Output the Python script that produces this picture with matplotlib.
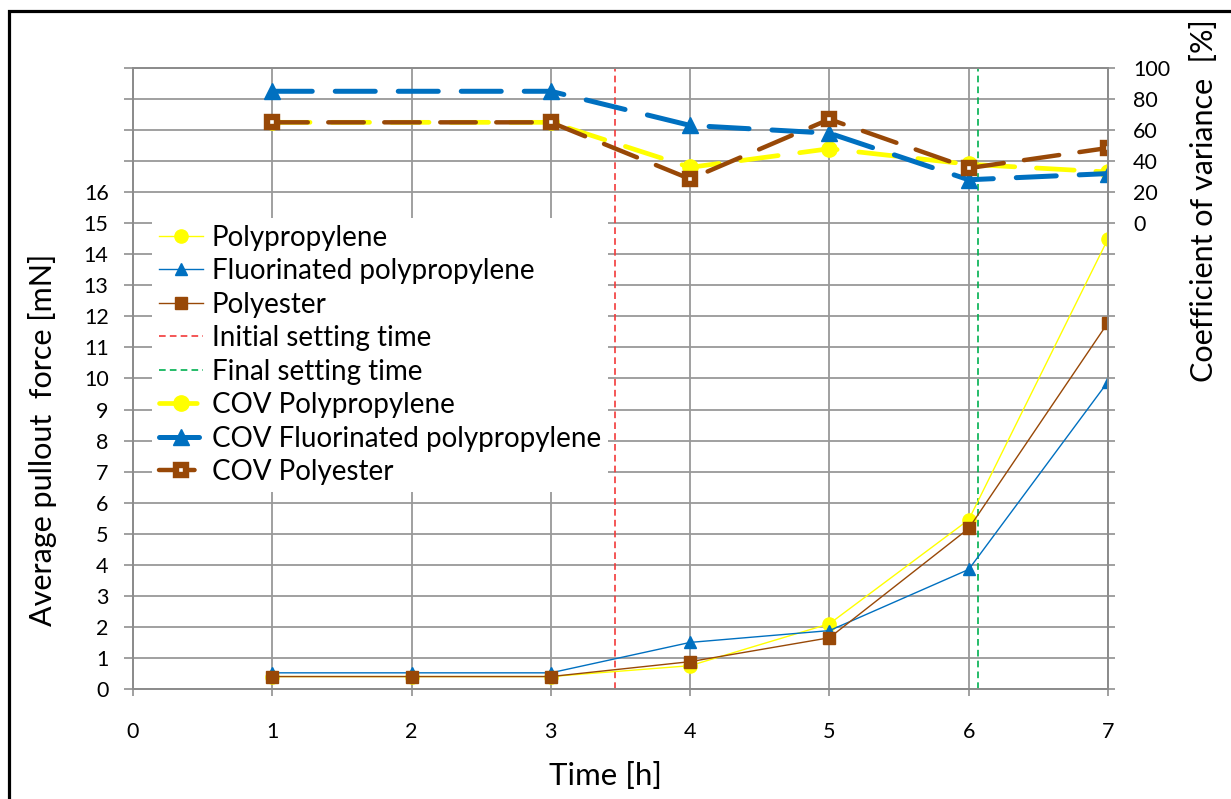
import matplotlib
matplotlib.use("Agg")
import matplotlib.pyplot as plt
from matplotlib.patches import Rectangle

plt.rcParams['font.family'] = ['Lato', 'DejaVu Sans']

# data
time_h = [1, 2, 3, 4, 5, 6, 7]
force_pp = [0.4, 0.4, 0.4, 0.75, 2.1, 5.45, 14.5]
force_fpp = [0.52, 0.52, 0.52, 1.5, 1.88, 3.85, 9.9]
force_pes = [0.4, 0.4, 0.4, 0.88, 1.65, 5.17, 11.8]

cov_time = [1, 3, 4, 5, 6, 7]
cov_pp = [65, 65, 36, 48, 38, 33]
cov_fpp = [85, 85, 63, 58, 28, 32]
cov_pes = [65, 65, 28.5, 67, 35.5, 48.5]

initial_set = 3.46
final_set = 6.065

yellow = '#FFFF00'
blue = '#0070C0'
brown = '#984807'
grid_c = '#999999'

fig = plt.figure(figsize=(12.31, 7.99), dpi=100)
ax = fig.add_axes([0.1080, 0.1377, 0.7921, 0.7772])
ax2 = ax.twinx()

# primary series (thin lines)
l1, = ax.plot(time_h, force_pp, color=yellow, lw=1.0, marker='o', ms=9.5, label='Polypropylene', zorder=3)
l2, = ax.plot(time_h, force_fpp, color=blue, lw=1.0, marker='^', ms=8.5, label='Fluorinated polypropylene', zorder=3)
l3, = ax.plot(time_h, force_pes, color=brown, lw=1.0, marker='s', ms=9, label='Polyester', zorder=3)

l4 = ax.axvline(initial_set, color='#F23A3A', lw=1.2, dashes=(4, 2.5), label='Initial setting time', zorder=2)
l5 = ax.axvline(final_set, color='#00B050', lw=1.2, dashes=(4, 2.5), label='Final setting time', zorder=2)

# coefficient of variance (thick dashed, right axis)
dash = (8, 4.6)
c1, = ax2.plot(cov_time, cov_pp, color=yellow, lw=3.4, dashes=dash, dash_capstyle='round',
               marker='o', ms=11, label='COV Polypropylene')
c2, = ax2.plot(cov_time, cov_fpp, color=blue, lw=3.6, dashes=dash, dash_capstyle='round',
               marker='^', ms=12, mfc=blue, mec=blue, label='COV Fluorinated polypropylene')
c3, = ax2.plot(cov_time, cov_pes, color=brown, lw=3.2, dashes=dash, dash_capstyle='round',
               marker='s', ms=7, mfc='white', mec=brown, mew=4.6, label='COV Polyester')

# axes limits and ticks
ax.set_xlim(0, 7)
ax.set_ylim(0, 20)
ax2.set_ylim(-300, 100)

ax.set_xticks(range(0, 8))
ax.set_yticks(range(0, 21))
ax.set_yticklabels([str(v) if v <= 16 else '' for v in range(0, 21)])
ax2_ticks = list(range(-300, 101, 20))
ax2.set_yticks(ax2_ticks)
ax2.set_yticklabels([str(v) if v >= 0 else '' for v in ax2_ticks])

ax.grid(True, color=grid_c, lw=1.3)
ax.set_axisbelow(True)
for a in (ax, ax2):
    for s in a.spines.values():
        s.set_color('#8c8c8c')
        s.set_linewidth(1.3)

ax.tick_params(axis='y', direction='out', length=6.5, width=1.3, color=grid_c, labelsize=15.5, pad=11)
ax.tick_params(axis='x', direction='out', length=5, width=1.3, color=grid_c, labelsize=15.5, pad=19)
ax2.tick_params(axis='y', direction='out', length=5, width=1.3, color=grid_c, labelsize=15.5, pad=13)

ax.set_xlabel('Time [h]', fontsize=22.5)
ax.xaxis.set_label_coords(0.485, -0.14)
ax.xaxis.label.set(va='center', ha='center')

ax.set_ylabel('Average pullout  force [mN]', fontsize=22)
ax.yaxis.set_label_coords(-0.093, 0.401)
ax.yaxis.label.set(va='center', ha='center')

ax2.set_ylabel('Coefficient of variance  [%]', fontsize=22)
ax2.yaxis.set_label_coords(1.098, 0.787)
ax2.yaxis.label.set(va='center', ha='center')

handles = [l1, l2, l3, l4, l5, c1, c2, c3]
leg = ax2.legend(handles=handles, loc='upper left', bbox_to_anchor=(0.0195, 0.759),
                 borderaxespad=0, frameon=True, fancybox=False, edgecolor='none',
                 facecolor='white', framealpha=1, fontsize=20, handlelength=1.6,
                 handletextpad=0.3, labelspacing=0.27, borderpad=0.25)

# outer frame of the chart area
fig.add_artist(Rectangle((9 / 1231, -0.1), 1.2, 0.9862 + 0.1, transform=fig.transFigure,
                         fill=False, edgecolor='black', lw=2.3))

fig.savefig('out.png', dpi=100)
